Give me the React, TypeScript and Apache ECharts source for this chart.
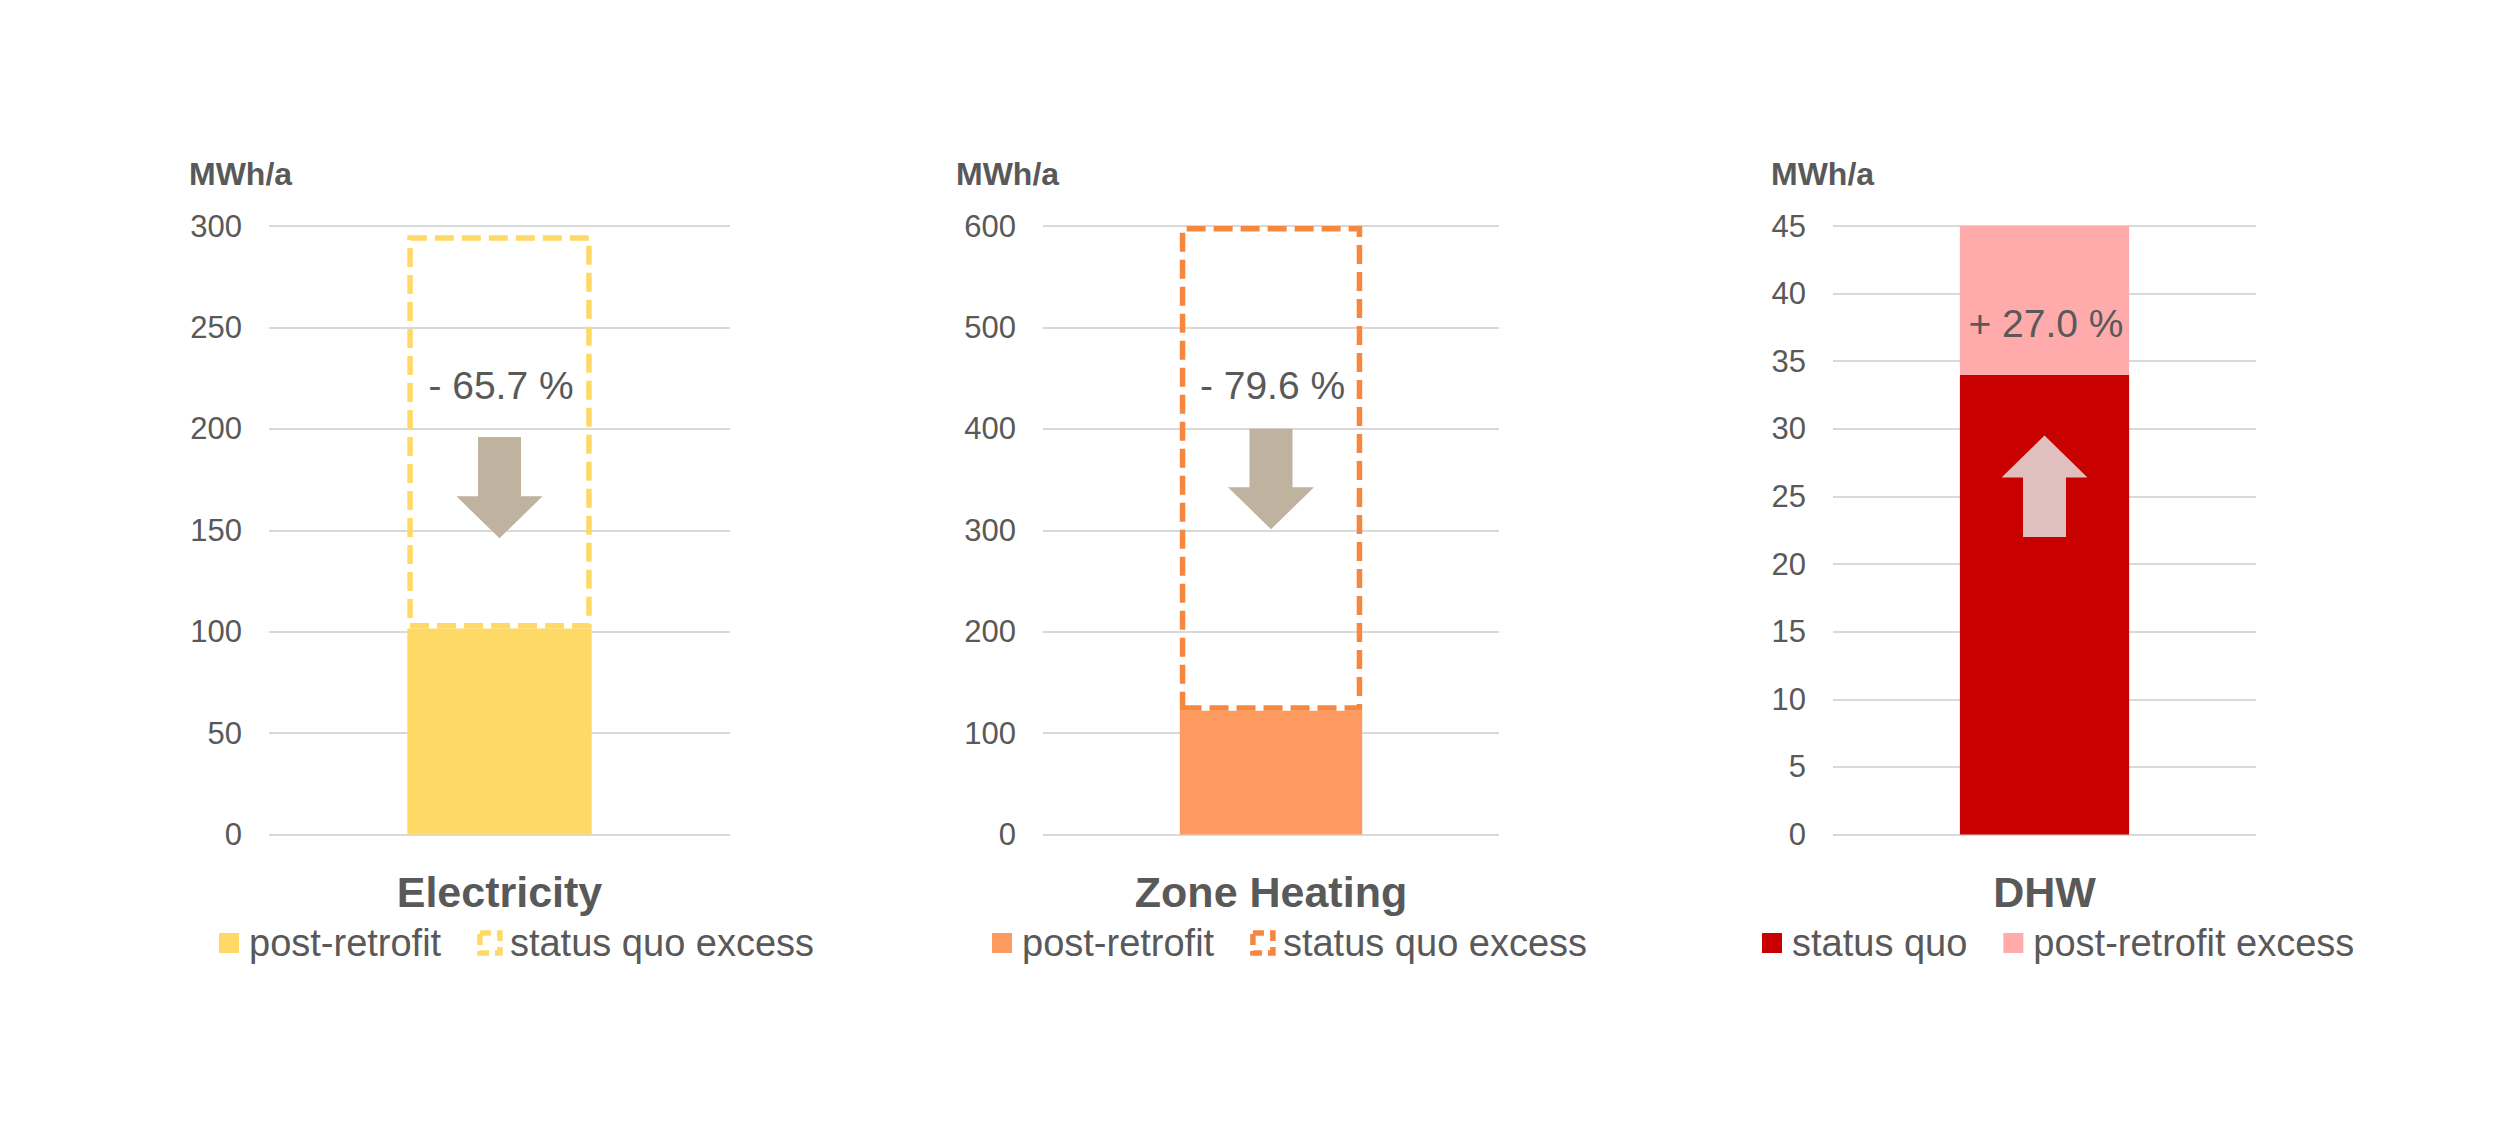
import React, { useEffect, useRef } from "react";
import * as echarts from "echarts";

// ---- data ----
const panelTitles = ["Electricity", "Zone Heating", "DHW"];
const baseNames = ["post-retrofit", "post-retrofit", "status quo"];
const excessNames = ["status quo excess", "status quo excess", "post-retrofit excess"];
const baseValues = [101.5, 122, 34];
const excessValues = [194, 478, 11];
const axisMax = [300, 600, 45];
const axisInterval = [50, 100, 5];
const unitLabel = "MWh/a";
const changeLabels = ["- 65.7 %", "- 79.6 %", "+ 27.0 %"];
const arrowFrom = [196, 400, 22];
const arrowTo = [146, 301, 29.5];
const labelValue = [221.6, 443, 37.8];

// ---- styles / layout ----
const FONT = '"Liberation Sans", Arial, Helvetica, sans-serif';
const TEXT = "#595959";
const gridLeft = [269, 1043, 1833];
const gridWidth = [461, 456, 423];
const gridTop = 226;
const gridHeight = 608.5;
const unitLeft = [189, 956, 1771];
const legendLeft = [219, 992, 1762];
const baseColors = ["#FFD966", "#FE9A5F", "#C80000"];
const excessColors = ["#FFD966", "#F7873F", "#FFABAB"];
const excessDashed = [true, true, false];
const arrowColors = ["#BFB29E", "#BFB29E", "#E0BFBF"];

const SEP = " · ";

export default function App() {
  const ref = useRef<HTMLDivElement>(null);

  useEffect(() => {
    document.body.style.margin = "0";
    if (!ref.current) return;
    const chart = echarts.init(ref.current, undefined, { renderer: "svg" });

    const grid: any[] = [];
    const xAxis: any[] = [];
    const yAxis: any[] = [];
    const series: any[] = [];
    const legend: any[] = [];
    const title: any[] = [];

    for (let i = 0; i < 3; i++) {
      grid.push({ left: gridLeft[i], top: gridTop, width: gridWidth[i], height: gridHeight });
      xAxis.push({
        type: "category",
        gridIndex: i,
        data: [panelTitles[i]],
        axisLine: { show: false },
        axisTick: { show: false },
        axisLabel: { fontSize: 43, fontWeight: "bold", color: TEXT, fontFamily: FONT, margin: 36 },
      });
      yAxis.push({
        type: "value",
        gridIndex: i,
        min: 0,
        max: axisMax[i],
        interval: axisInterval[i],
        axisLine: { show: false },
        axisTick: { show: false },
        splitLine: { lineStyle: { color: "#D9D9D9", width: 2 } },
        axisLabel: { fontSize: 31, color: TEXT, margin: 27, fontFamily: FONT },
      });
      title.push({
        text: unitLabel,
        left: unitLeft[i],
        top: 158,
        padding: 0,
        textStyle: { fontSize: 32, fontWeight: "bold", color: TEXT, fontFamily: FONT },
      });
      const baseName = panelTitles[i] + SEP + baseNames[i];
      const excessName = panelTitles[i] + SEP + excessNames[i];
      series.push({
        type: "bar",
        name: baseName,
        xAxisIndex: i,
        yAxisIndex: i,
        stack: "s" + i,
        barWidth: "40%",
        data: [baseValues[i]],
        itemStyle: { color: baseColors[i] },
      });
      series.push({
        type: "bar",
        name: excessName,
        xAxisIndex: i,
        yAxisIndex: i,
        stack: "s" + i,
        barWidth: "40%",
        data: [excessValues[i]],
        itemStyle: excessDashed[i]
          ? { color: "rgba(0,0,0,0)", borderColor: excessColors[i], borderWidth: 5.5, borderType: [19, 8] }
          : { color: excessColors[i] },
      });
      const idx = i;
      series.push({
        type: "custom",
        name: panelTitles[i] + SEP + "change",
        xAxisIndex: i,
        yAxisIndex: i,
        z: 5,
        data: [[0, arrowFrom[i], arrowTo[i], labelValue[i]]],
        encode: { x: 0, y: 1 },
        renderItem: (params: any, api: any) => {
          const c = api.value(0);
          const pFrom = api.coord([c, api.value(1)]);
          const pTo = api.coord([c, api.value(2)]);
          const pLab = api.coord([c, api.value(3)]);
          const cx = pFrom[0];
          const y0 = pFrom[1];
          const y1 = pTo[1];
          const dir = y1 > y0 ? 1 : -1;
          const yb = y1 - dir * 42;
          const sw = 21.5;
          const hw = 43;
          return {
            type: "group",
            children: [
              {
                type: "polygon",
                shape: {
                  points: [
                    [cx - sw, y0],
                    [cx + sw, y0],
                    [cx + sw, yb],
                    [cx + hw, yb],
                    [cx, y1],
                    [cx - hw, yb],
                    [cx - sw, yb],
                  ],
                },
                style: { fill: arrowColors[idx] },
              },
              {
                type: "text",
                x: cx + 1.5,
                y: pLab[1],
                style: {
                  text: changeLabels[idx],
                  fontSize: 39,
                  fontFamily: FONT,
                  fill: TEXT,
                  align: "center",
                  verticalAlign: "middle",
                },
              },
            ],
          };
        },
      });
      legend.push({
        left: legendLeft[i],
        top: 924,
        padding: 0,
        icon: "rect",
        itemWidth: 20,
        itemHeight: 20,
        itemGap: 36,
        selectedMode: false,
        formatter: (name: string) => name.split(SEP)[1],
        textStyle: { fontSize: 38, color: TEXT, fontFamily: FONT, padding: [0, 0, 0, 5] },
        data: [
          { name: baseName },
          excessDashed[i]
            ? {
                name: excessName,
                itemStyle: {
                  color: "rgba(0,0,0,0)",
                  borderColor: excessColors[i],
                  borderWidth: 5.5,
                  borderType: [11, 6],
                },
              }
            : { name: excessName },
        ],
      });
    }

    chart.setOption({
      animation: false,
      backgroundColor: "#ffffff",
      title,
      grid,
      xAxis,
      yAxis,
      legend,
      series,
    });

    return () => chart.dispose();
  }, []);

  return <div ref={ref} style={{ width: 2500, height: 1125 }} />;
}
